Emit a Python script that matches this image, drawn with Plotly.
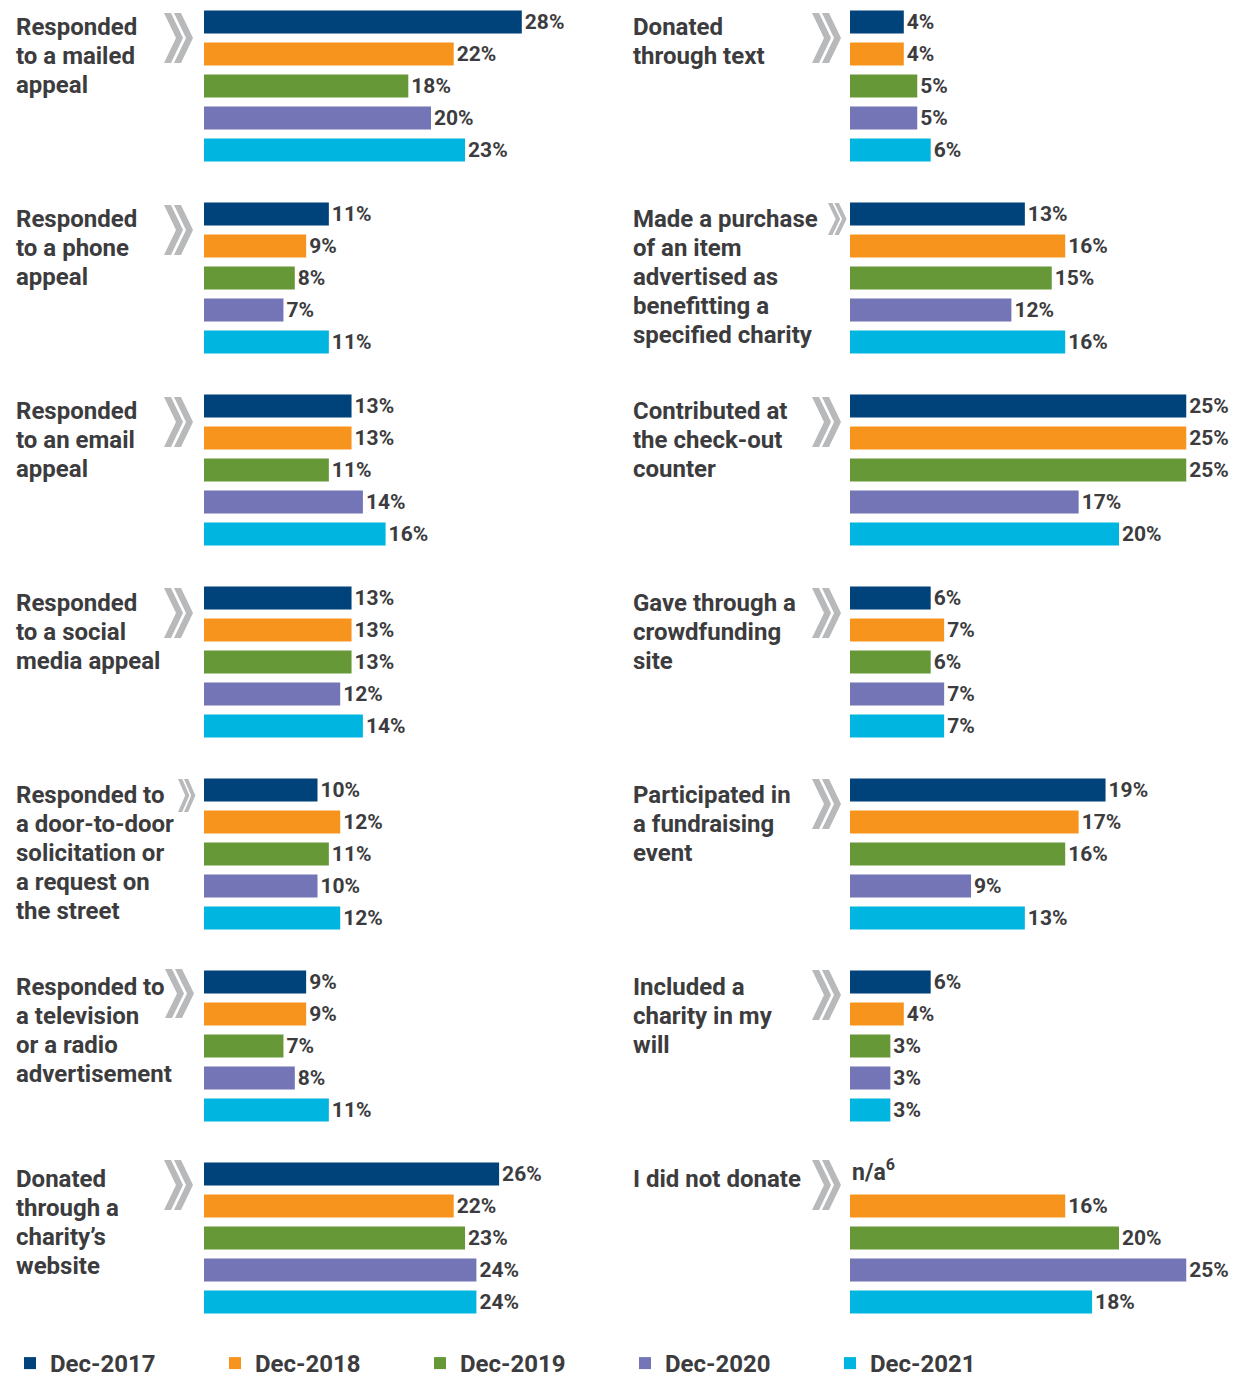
import plotly.graph_objects as go

W, H = 1237, 1382

# ---------------- data ----------------
series = ["Dec-2017", "Dec-2018", "Dec-2019", "Dec-2020", "Dec-2021"]
colors = ["#00427a", "#f7941e", "#669838", "#7375b6", "#00b5e0"]

left_categories = [
    "Responded<br>to a mailed<br>appeal",
    "Responded<br>to a phone<br>appeal",
    "Responded<br>to an email<br>appeal",
    "Responded<br>to a social<br>media appeal",
    "Responded to<br>a door-to-door<br>solicitation or<br>a request on<br>the street",
    "Responded to<br>a television<br>or a radio<br>advertisement",
    "Donated<br>through a<br>charity’s<br>website",
]
right_categories = [
    "Donated<br>through text",
    "Made a purchase<br>of an item<br>advertised as<br>benefitting a<br>specified charity",
    "Contributed at<br>the check-out<br>counter",
    "Gave through a<br>crowdfunding<br>site",
    "Participated in<br>a fundraising<br>event",
    "Included a<br>charity in my<br>will",
    "I did not donate",
]

left_dec2017 = [28, 11, 13, 13, 10, 9, 26]
left_dec2018 = [22, 9, 13, 13, 12, 9, 22]
left_dec2019 = [18, 8, 11, 13, 11, 7, 23]
left_dec2020 = [20, 7, 14, 12, 10, 8, 24]
left_dec2021 = [23, 11, 16, 14, 12, 11, 24]

right_dec2017 = [4, 13, 25, 6, 19, 6, None]   # n/a for "I did not donate"
right_dec2018 = [4, 16, 25, 7, 17, 4, 16]
right_dec2019 = [5, 15, 25, 6, 16, 3, 20]
right_dec2020 = [5, 12, 17, 7, 9, 3, 25]
right_dec2021 = [6, 16, 20, 7, 13, 3, 18]

left_values = [left_dec2017, left_dec2018, left_dec2019, left_dec2020, left_dec2021]
right_values = [right_dec2017, right_dec2018, right_dec2019, right_dec2020, right_dec2021]

# ---------------- styling ----------------
FONT = "Roboto, Liberation Sans, sans-serif"
TXT = "#3c3c3e"
CHEV = "#b8b9bb"
ROW_STEP = 6          # y units between panels
PX_PER_UNIT = 32.0
Y_TOP_PX = 22.0       # pixel centre of the first bar
DOMAIN_BOTTOM_PX = 1340.0


def px_x(p):
    return p / W


def px_y(p):
    return 1 - p / H


fig = go.Figure()

for k, name in enumerate(series):
    for side, vals, xa, ya in (("L", left_values[k], "x", "y"), ("R", right_values[k], "x2", "y2")):
        rows = [r for r, v in enumerate(vals) if v is not None]
        xs = [vals[r] for r in rows]
        ys = [r * ROW_STEP + k for r in rows]
        fig.add_trace(go.Bar(
            x=xs, y=ys, orientation="h", name=name,
            marker=dict(color=colors[k], line=dict(width=0)),
            width=0.72,
            text=[f"{v}%" for v in xs],
            textposition="outside", constraintext="none", cliponaxis=False,
            textfont=dict(family=FONT, size=21, color=TXT, weight=700),
            xaxis=xa, yaxis=ya,
            legendgroup=name, showlegend=(side == "L"),
            hovertemplate="%{x}%<extra>" + name + "</extra>",
        ))

y_lo = -Y_TOP_PX / PX_PER_UNIT
y_hi = (DOMAIN_BOTTOM_PX - Y_TOP_PX) / PX_PER_UNIT
ydom = [px_y(DOMAIN_BOTTOM_PX), 1]

LEFT_X0, LEFT_SCALE = 204, 11.35
RIGHT_X0, RIGHT_SCALE = 850, 13.45

fig.update_layout(
    width=W, height=H,
    margin=dict(l=0, r=0, t=0, b=0, autoexpand=False),
    paper_bgcolor="white", plot_bgcolor="white",
    barmode="overlay",
    xaxis=dict(domain=[px_x(LEFT_X0), px_x(600)], range=[0, (600 - LEFT_X0) / LEFT_SCALE],
               visible=False, fixedrange=True),
    xaxis2=dict(domain=[px_x(RIGHT_X0), 1], range=[0, (W - RIGHT_X0) / RIGHT_SCALE],
                visible=False, anchor="y2", fixedrange=True),
    yaxis=dict(domain=ydom, range=[y_hi, y_lo], visible=False, anchor="x", fixedrange=True),
    yaxis2=dict(domain=ydom, range=[y_hi, y_lo], visible=False, anchor="x2", fixedrange=True),
    showlegend=True,
    legend=dict(
        orientation="h", x=px_x(10), xanchor="left", y=-4.0 / H, yanchor="bottom",
        font=dict(family=FONT, size=24, color=TXT, weight=700),
        entrywidth=160, entrywidthmode="pixels", itemclick=False, itemdoubleclick=False,
        traceorder="normal", bgcolor="rgba(0,0,0,0)",
    ),
    font=dict(family=FONT, color=TXT),
)

# ---------------- panel labels ----------------
LINE_STEP = 0.9   # 28.8 px between label lines
annotations = []
for cats, xpx, yref in ((left_categories, 14, "y"), (right_categories, 631, "y2")):
    for r, cat in enumerate(cats):
        for j, line in enumerate(cat.split("<br>")):
            annotations.append(dict(
                text=line, xref="paper", x=px_x(xpx), xanchor="left",
                yref=yref, y=r * ROW_STEP + 0.17 + j * LINE_STEP, yanchor="middle",
                showarrow=False, align="left",
                font=dict(family=FONT, size=24, color=TXT, weight=700),
            ))

# n/a marker for the missing Dec-2017 value
annotations.append(dict(
    text="n/a<sup>6</sup>", xref="x2", x=0, xanchor="left",
    yref="y2", y=6 * ROW_STEP - 0.1, yanchor="middle", showarrow=False,
    font=dict(family=FONT, size=23, color=TXT, weight=700),
))
fig.update_layout(annotations=annotations)

# ---------------- chevron decorations ----------------
def chevron_shapes(x0, ytop, h, sx=1.0):
    t, d, s = 7 * sx, 12 * sx, 10 * sx
    ybot, ymid = ytop + h, ytop + h / 2
    out = []
    for off in (0, s):
        a = x0 + off
        pts = [(a, ytop), (a + t, ytop), (a + t + d, ymid), (a + t, ybot), (a, ybot), (a + d, ymid)]
        path = "M " + " L ".join(f"{px_x(px):.5f},{px_y(py):.5f}" for px, py in pts) + " Z"
        out.append(dict(type="path", path=path, xref="paper", yref="paper",
                        fillcolor=CHEV, line=dict(width=0), layer="above"))
    return out

chev_left = [(164, 13, 50, 1.0), (164, 205, 50, 1.0), (164, 397, 50, 1.0), (164, 588, 50, 1.0),
             (178, 779, 33, 0.6), (165, 969, 49, 1.0), (164, 1160, 50, 1.0)]
chev_right = [(812, 13, 50, 1.0), (828, 203, 32, 0.64), (812, 397, 50, 1.0), (812, 588, 50, 1.0),
              (812, 779, 50, 1.0), (812, 970, 50, 1.0), (812, 1160, 50, 1.0)]
shapes = []
for x0, yt, h, sx in chev_left + chev_right:
    shapes += chevron_shapes(x0, yt, h, sx)
fig.update_layout(shapes=shapes)

fig.write_html("out.html")
